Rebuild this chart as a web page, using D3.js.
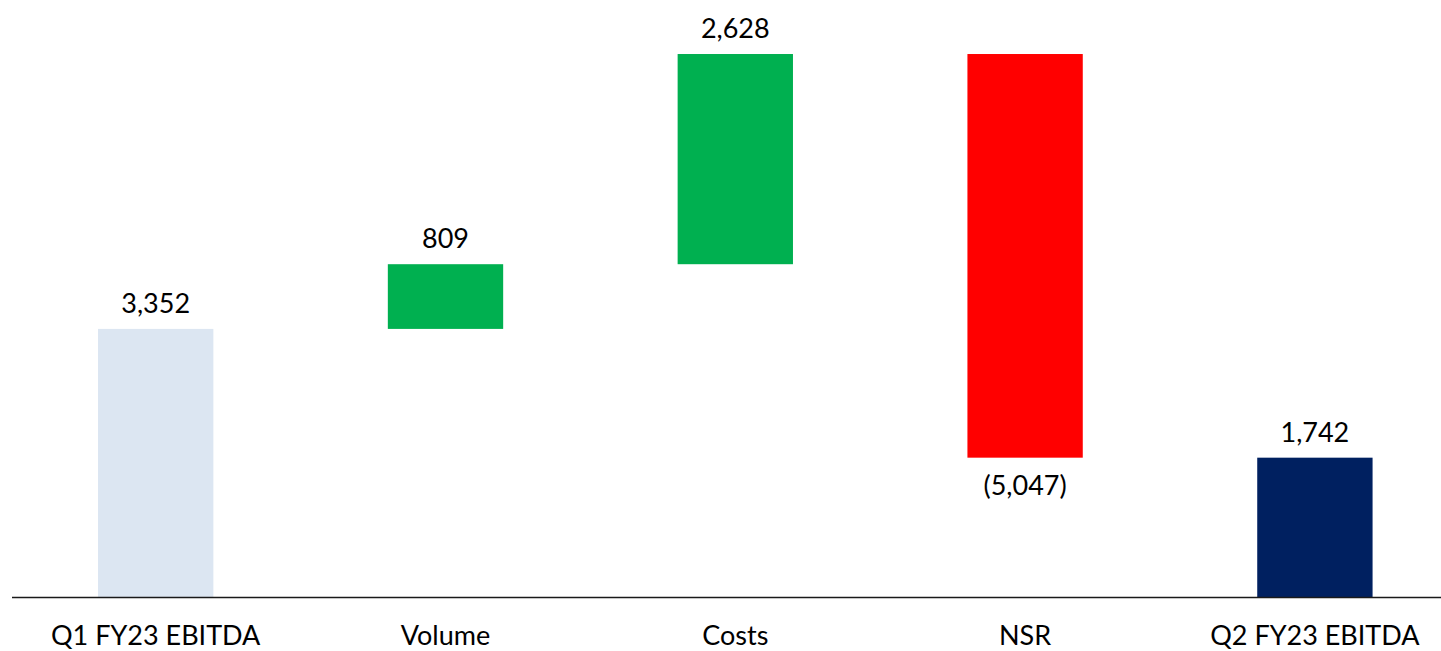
<!DOCTYPE html>
<html>
<head>
<meta charset="utf-8">
<script src="https://cdn.jsdelivr.net/npm/d3@7"></script>
<style>
  html, body { margin: 0; padding: 0; background: #fff; }
  svg { display: block; }
  text { font-family: Lato, "Open Sans", sans-serif; fill: #000; }
</style>
</head>
<body>
<svg id="chart" width="1441" height="651"></svg>
<script>
// EBITDA bridge, Q1 FY23 to Q2 FY23
const categories = ["Q1 FY23 EBITDA", "Volume", "Costs", "NSR", "Q2 FY23 EBITDA"];
const values = [3352, 809, 2628, -5047, 1742];
const kinds = ["total", "delta", "delta", "delta", "total"];
const colors = { total0: "#dce6f2", up: "#00b050", down: "#ff0000", total1: "#002060" };

const W = 1441, H = 651;
const svg = d3.select("#chart");

// running start/end for each step of the bridge
let running = 0;
const bars = categories.map((c, i) => {
  let start, end;
  if (kinds[i] === "total") { start = 0; end = values[i]; running = values[i]; }
  else { start = running; end = running + values[i]; running = end; }
  let color;
  if (i === 0) color = colors.total0;
  else if (kinds[i] === "total") color = colors.total1;
  else color = values[i] >= 0 ? colors.up : colors.down;
  return { c, v: values[i], start, end, color };
});

const x = d3.scaleBand()
  .domain(categories)
  .range([10.8, 1459.8])
  .paddingInner(0.602)
  .paddingOuter(0.301);

const y = d3.scaleLinear()
  .domain([0, 7000])
  .range([597, 597 - 7000 * 0.07998]);

const fmt = v => v < 0 ? "(" + d3.format(",")(-v) + ")" : d3.format(",")(v);

svg.append("g").selectAll("rect")
  .data(bars)
  .join("rect")
  .attr("x", d => x(d.c))
  .attr("width", x.bandwidth())
  .attr("y", d => y(Math.max(d.start, d.end)))
  .attr("height", d => Math.abs(y(d.start) - y(d.end)))
  .attr("fill", d => d.color);

// baseline axis
svg.append("line")
  .attr("x1", 12).attr("x2", W)
  .attr("y1", y(0) + 0.5).attr("y2", y(0) + 0.5)
  .attr("stroke", "#1a1a1a")
  .attr("stroke-width", 1.6);

// value labels
svg.append("g").selectAll("text")
  .data(bars)
  .join("text")
  .attr("x", d => x(d.c) + x.bandwidth() / 2)
  .attr("y", d => d.v >= 0 ? y(Math.max(d.start, d.end)) - 16 : y(Math.min(d.start, d.end)) + 37)
  .attr("text-anchor", "middle")
  .attr("font-size", 27)
  .text(d => fmt(d.v));

// category labels
svg.append("g").selectAll("text")
  .data(categories)
  .join("text")
  .attr("x", d => x(d) + x.bandwidth() / 2)
  .attr("y", 645)
  .attr("text-anchor", "middle")
  .attr("font-size", 27)
  .text(d => d);
</script>
</body>
</html>
